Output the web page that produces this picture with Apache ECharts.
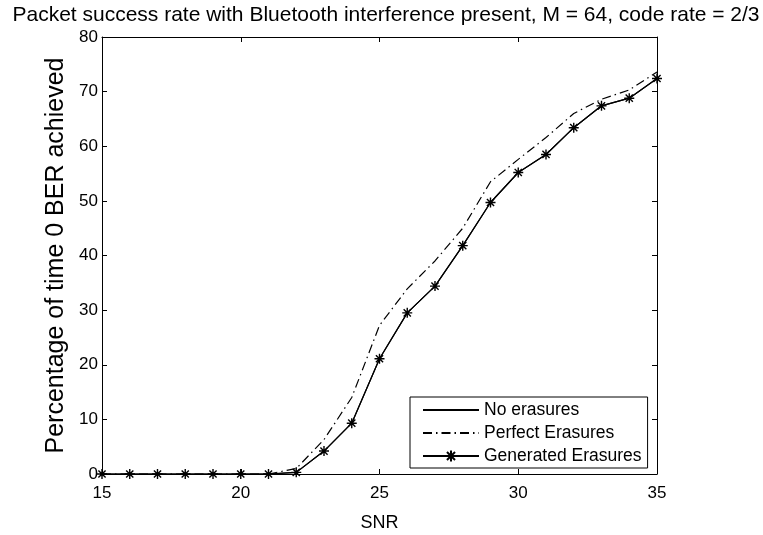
<!DOCTYPE html>
<html><head><meta charset="utf-8">
<script src="https://cdn.jsdelivr.net/npm/echarts@6/dist/echarts.min.js"></script>
<style>html,body{margin:0;padding:0;background:#fff}#c{width:763px;height:535px}</style>
</head><body><div id="c"></div>
<script>
var snr = [15,16,17,18,19,20,21,22,23,24,25,26,27,28,29,30,31,32,33,34,35];
var noErasures = [0,0,0,0,0,0,0,0.3,4.2,9.3,21.1,29.5,34.4,41.8,49.7,55.2,58.5,63.4,67.4,68.8,72.4];
var perfectErasures = [0,0,0,0,0,0,0,1.0,6.3,14.0,27.2,33.9,39.0,45.0,53.5,57.6,61.6,66.0,68.6,70.3,73.6];
var generatedErasures = [0,0,0,0,0,0,0,0.3,4.2,9.3,21.1,29.5,34.4,41.8,49.7,55.2,58.5,63.4,67.4,68.8,72.4];
var xTicks = [15,20,25,30,35];
var yTicks = [0,10,20,30,40,50,60,70,80];
var titleText = 'Packet success rate with Bluetooth interference present, M = 64, code rate = 2/3';
var seriesNames = ['No erasures','Perfect Erasures','Generated Erasures'];

function pairs(v){ return snr.map(function(x,i){return [x,v[i]];}); }
var FONT = '"Liberation Sans", Arial, sans-serif';
var star = 'path://M0,-5L0,5M-5,0L5,0M-3.6,-3.6L3.6,3.6M-3.6,3.6L3.6,-3.6';

var chart = echarts.init(document.getElementById('c'), null, {renderer:'canvas'});
var axisCommon = {
  min: 0, max: 80, interval: 10,
  axisLine:{show:true, onZero:false, lineStyle:{color:'#000', width:1}},
  axisTick:{show:true, inside:true, length:5, lineStyle:{color:'#000'}},
  splitLine:{show:false}
};
chart.setOption({
  animation:false,
  backgroundColor:'#fff',
  title:{text:titleText, left:381, textAlign:'center', top:0,
    textStyle:{fontFamily:FONT, fontSize:21, fontWeight:'normal', color:'#000'}},
  grid:{left:102, right:106, top:37, bottom:61, show:false, containLabel:false, outerBoundsMode:'none'},
  legend:{
    data:[
      {name:seriesNames[0], itemStyle:{opacity:0}},
      {name:seriesNames[1], itemStyle:{opacity:0}},
      {name:seriesNames[2]}
    ],
    orient:'vertical', left:410, top:397,
    itemWidth:56, itemHeight:14, itemGap:5,
    padding:[4,6,3,12],
    borderColor:'#000', borderWidth:1, backgroundColor:'#fff',
    textStyle:{fontFamily:FONT, fontSize:17.5, lineHeight:17, color:'#000'}
  },
  xAxis:[
    {type:'value', min:15, max:35, interval:5, position:'bottom',
     axisLine:{show:true, onZero:false, lineStyle:{color:'#000'}},
     axisTick:{show:true, inside:true, length:5, lineStyle:{color:'#000'}},
     splitLine:{show:false},
     axisLabel:{fontFamily:FONT, fontSize:17, color:'#000', margin:11,
       formatter:function(v){return xTicks.indexOf(v)>=0?String(v):'';}},
     name:'SNR', nameLocation:'middle', nameGap:40,
     nameTextStyle:{fontFamily:FONT, fontSize:18, color:'#000'}},
    {type:'value', min:15, max:35, interval:5, position:'top',
     axisLine:{show:true, onZero:false, lineStyle:{color:'#000'}},
     axisTick:{show:true, inside:true, length:5, lineStyle:{color:'#000'}},
     splitLine:{show:false}, axisLabel:{show:false}}
  ],
  yAxis:[
    Object.assign({type:'value', position:'left',
     axisLabel:{fontFamily:FONT, fontSize:17, color:'#000', margin:4,
       formatter:function(v){return yTicks.indexOf(v)>=0?String(v):'';}},
     name:'Percentage of time 0 BER achieved', nameLocation:'middle', nameGap:28,
     nameTextStyle:{fontFamily:FONT, fontSize:25, color:'#000'}}, axisCommon),
    Object.assign({type:'value', position:'right', axisLabel:{show:false}}, axisCommon)
  ],
  series:[
    {name:seriesNames[0], type:'line', data:pairs(noErasures), symbol:'none',
     lineStyle:{color:'#000', width:1.2, type:'solid'}, itemStyle:{color:'#000'}, z:2},
    {name:seriesNames[1], type:'line', data:pairs(perfectErasures), symbol:'none',
     lineStyle:{color:'#000', width:1.2, type:[9,4,1.5,4]}, itemStyle:{color:'#000'}, z:3},
    {name:seriesNames[2], type:'line', data:pairs(generatedErasures), symbol:star, symbolSize:10,
     showAllSymbol:true,
     lineStyle:{color:'#000', width:1.2, type:'solid'},
     itemStyle:{color:'none', borderColor:'#000', borderWidth:1.4}, z:4}
  ]
});
</script></body></html>
